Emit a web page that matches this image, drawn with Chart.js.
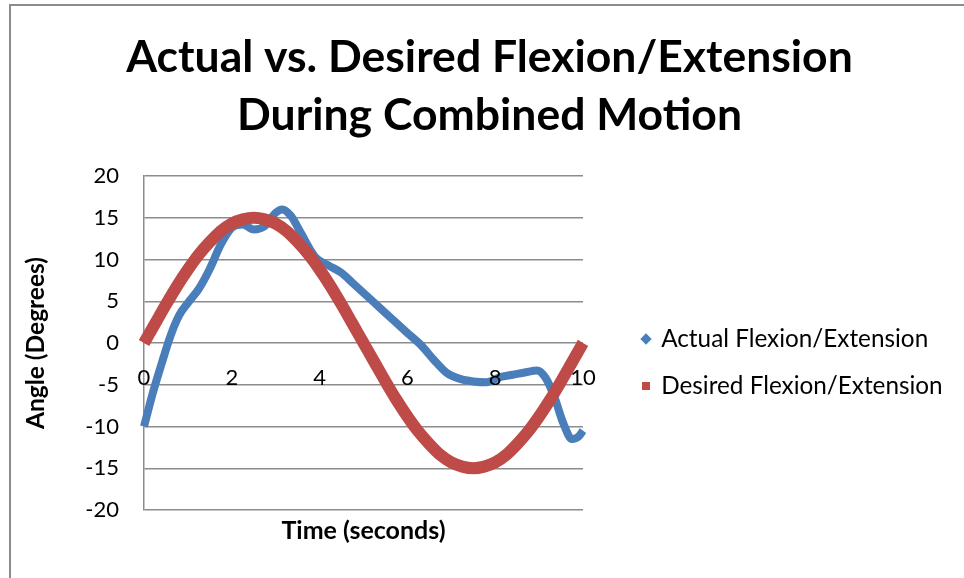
<!DOCTYPE html>
<html>
<head>
<meta charset="utf-8">
<script src="https://cdn.jsdelivr.net/npm/chart.js@4.4.1/dist/chart.umd.min.js"></script>
<style>
  html, body { margin: 0; padding: 0; background: #fff; overflow: hidden; }
  #wrap { position: relative; width: 964px; height: 578px; }
  #frame { position: absolute; left: 9px; top: 4px; width: 1200px; height: 800px;
           border-left: 2px solid #8c8c8c; border-top: 2px solid #8c8c8c; }
  canvas { position: absolute; left: 0; top: 0; }
</style>
</head>
<body>
<div id="wrap">
  <div id="frame"></div>
  <canvas id="chart" width="964" height="578"></canvas>
</div>
<script>
// Measured knee angle (seconds, degrees)
const actualTime = [0, 0.2, 0.4, 0.6, 0.8, 1.0, 1.25, 1.5, 1.75, 2.0, 2.25, 2.5, 2.75, 3.0, 3.15, 3.35, 3.55, 3.9, 4.2, 4.5, 4.75, 5.0, 5.5, 6.0, 6.3, 6.6, 6.9, 7.2, 7.5, 7.8, 8.1, 8.4, 8.7, 8.95, 9.15, 9.35, 9.55, 9.75, 9.9, 10.0];
const actualAngle = [-10, -6, -2.5, 0.8, 3.3, 4.8, 6.5, 8.9, 11.8, 13.8, 14.2, 13.6, 14.0, 15.6, 16.0, 15.2, 13.4, 10.3, 9.3, 8.4, 7.2, 6.0, 3.6, 1.2, -0.2, -2.0, -3.6, -4.3, -4.6, -4.7, -4.1, -3.8, -3.5, -3.3, -4.2, -6.5, -9.6, -11.5, -11.2, -10.5];

// Commanded knee angle (seconds, degrees)
const desiredTime = [0, 0.25, 0.5, 0.75, 1, 1.25, 1.5, 1.75, 2, 2.25, 2.5, 2.75, 3, 3.25, 3.5, 3.75, 4, 4.25, 4.5, 4.75, 5, 5.25, 5.5, 5.75, 6, 6.25, 6.5, 6.75, 7, 7.25, 7.5, 7.75, 8, 8.25, 8.5, 8.75, 9, 9.25, 9.5, 9.75, 10];
const desiredAngle = [0, 2.3, 4.6, 6.8, 8.8, 10.6, 12.1, 13.4, 14.3, 14.8, 15, 14.8, 14.3, 13.4, 12.1, 10.6, 8.8, 6.8, 4.6, 2.3, 0, -2.3, -4.6, -6.8, -8.8, -10.6, -12.1, -13.4, -14.3, -14.8, -15, -14.8, -14.3, -13.4, -12.1, -10.6, -8.8, -6.8, -4.6, -2.3, 0];

const seriesNames = ['Actual Flexion/Extension', 'Desired Flexion/Extension'];
const xTickValues = [0, 2, 4, 6, 8, 10];
const yTickValues = [-20, -15, -10, -5, 0, 5, 10, 15, 20];

const FONT = 'Lato, "Open Sans", sans-serif';
const GRID = '#8c8c8c';
const toPoints = (xs, ys) => xs.map((x, i) => ({ x: x, y: ys[i] }));

// spacer axis used only to reserve room on the right
const spacer = (w, weight) => ({
  type: 'linear', position: 'right', display: true, weight: weight,
  grid: { display: false, drawTicks: false }, border: { display: false },
  ticks: { display: false },
  afterFit: s => { s.width = w; }
});

// let the legend text run to the right edge of the canvas instead of being clipped
const wideLegend = {
  id: 'wideLegend',
  afterLayout(chart) {
    const lg = chart.legend;
    if (lg) { lg.right = chart.width; lg.width = lg.right - lg.left; }
  }
};

new Chart(document.getElementById('chart'), {
  type: 'scatter',
  plugins: [wideLegend],
  data: {
    datasets: [
      {
        label: seriesNames[0],
        data: toPoints(actualTime, actualAngle),
        showLine: true,
        borderColor: '#4a7ebb',
        backgroundColor: '#4a7ebb',
        pointBackgroundColor: '#4a7ebb',
        pointBorderWidth: 0,
        borderWidth: 8,
        pointRadius: 0,
        pointHoverRadius: 0,
        pointStyle: 'rectRot',
        cubicInterpolationMode: 'monotone',
        clip: false,
        order: 1
      },
      {
        label: seriesNames[1],
        data: toPoints(desiredTime, desiredAngle),
        showLine: true,
        borderColor: '#be4b48',
        backgroundColor: '#be4b48',
        pointBackgroundColor: '#be4b48',
        pointBorderWidth: 0,
        borderWidth: 12,
        pointRadius: 0,
        pointHoverRadius: 0,
        pointStyle: 'rect',
        cubicInterpolationMode: 'monotone',
        clip: false,
        order: 0
      }
    ]
  },
  options: {
    responsive: false,
    animation: false,
    devicePixelRatio: 1,
    layout: { padding: { left: 15, right: 0, top: 0, bottom: 0 } },
    scales: {
      x: {
        type: 'linear',
        position: { y: 0 },
        min: 0, max: 10,
        afterBuildTicks: s => { s.ticks = xTickValues.map(v => ({ value: v })); },
        grid: { display: false, drawTicks: false },
        border: { display: false },
        ticks: { z: 1, color: '#000', padding: 22, maxRotation: 0, font: { family: FONT, size: 22 } }
      },
      y: {
        type: 'linear',
        position: 'left',
        min: -20, max: 20,
        afterBuildTicks: s => { s.ticks = yTickValues.map(v => ({ value: v })); },
        afterFit: s => { s.width = 129; },
        grid: { color: GRID, lineWidth: 1.5, drawTicks: false },
        border: { display: true, color: GRID, width: 1.5 },
        ticks: { color: '#000', padding: 25, font: { family: FONT, size: 22 } },
        title: {
          display: true, text: 'Angle (Degrees)', color: '#000',
          font: { family: FONT, size: 24.5, weight: 'bold', lineHeight: 1.2 },
          padding: { top: 6.3, bottom: 0 }
        }
      },
      y2: spacer(37.3, 0),
      y3: spacer(243.7, 2000)
    },
    plugins: {
      title: {
        display: true,
        text: ['Actual vs. Desired Flexion/Extension', 'During Combined Motion'],
        color: '#000',
        font: { family: FONT, size: 44.5, weight: 'bold', lineHeight: 58 / 44.5 },
        padding: { top: 29, bottom: 31 }
      },
      subtitle: {
        display: true,
        text: 'Time (seconds)',
        position: 'bottom',
        fullSize: false,
        color: '#000',
        font: { family: FONT, size: 25, weight: 'bold', lineHeight: 1.2 },
        padding: { top: 6, bottom: 32 }
      },
      legend: {
        display: true,
        position: 'right',
        fullSize: false,
        maxWidth: 100,
        title: { display: true, text: ' ', font: { size: 10, lineHeight: 1.2 }, padding: { top: 27, bottom: 0 } },
        labels: {
          usePointStyle: true,
          boxWidth: 6,
          boxHeight: 8,
          padding: 22.7,
          color: '#000',
          font: { family: FONT, size: 24.3 },
          sort: (a, b) => a.datasetIndex - b.datasetIndex
        }
      },
      tooltip: { enabled: false }
    }
  }
});
</script>
</body>
</html>
